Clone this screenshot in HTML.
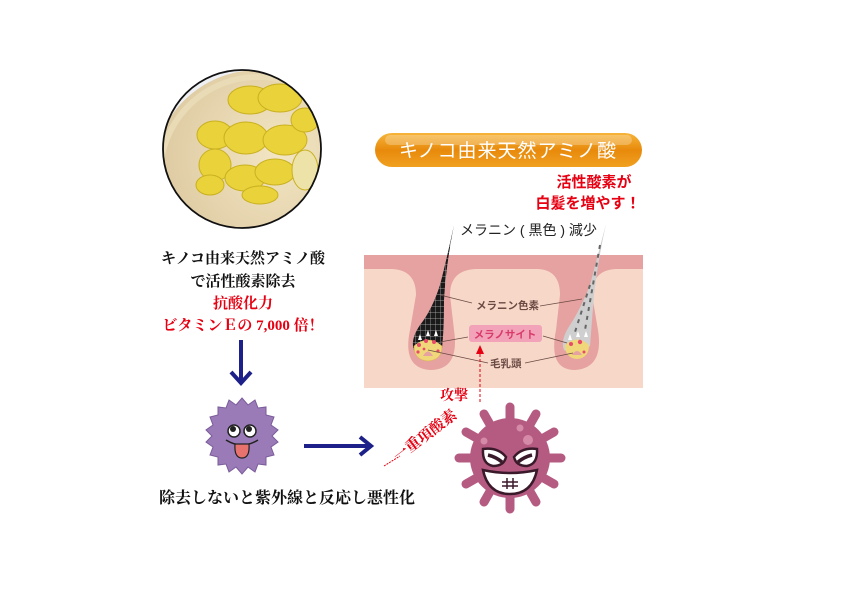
<!DOCTYPE html>
<html><head><meta charset="utf-8"><style>
html,body{margin:0;padding:0;background:#fff;width:842px;height:595px;overflow:hidden}
svg{display:block}
.s{font-family:"Liberation Serif","Noto Serif CJK SC",serif;font-weight:bold}
.g{font-family:"Liberation Sans","Noto Sans CJK JP",sans-serif}
</style></head><body>
<svg width="842" height="595" viewBox="0 0 842 595" xmlns="http://www.w3.org/2000/svg">
<defs>
<radialGradient id="bg" cx="0.6" cy="0.4" r="0.7"><stop offset="0" stop-color="#f3e6c4"/><stop offset="1" stop-color="#d9c49a"/></radialGradient>
<linearGradient id="pill" x1="0" y1="0" x2="0" y2="1"><stop offset="0" stop-color="#f6b53a"/><stop offset="0.5" stop-color="#e88a0c"/><stop offset="1" stop-color="#f0a020"/></linearGradient>
<clipPath id="cc"><circle cx="242" cy="149" r="79"/></clipPath>
<pattern id="mesh" width="5" height="6" patternUnits="userSpaceOnUse"><rect width="5" height="6" fill="#1a1a1a"/><path d="M0 0H5M0 0V6" stroke="#bbb" stroke-width="0.7"/></pattern>
</defs>

<!-- photo circle -->
<g clip-path="url(#cc)">
<rect x="160" y="65" width="170" height="170" fill="#eef0f4"/>
<circle cx="258" cy="175" r="105" fill="url(#bg)"/>
<circle cx="258" cy="175" r="98" fill="none" stroke="#e9dbb6" stroke-width="6"/>
<g fill="#e9d23a" stroke="#c9b020" stroke-width="1">
<ellipse cx="250" cy="100" rx="22" ry="14"/><ellipse cx="280" cy="98" rx="22" ry="14"/>
<ellipse cx="215" cy="135" rx="18" ry="14"/><ellipse cx="246" cy="138" rx="22" ry="16"/>
<ellipse cx="285" cy="140" rx="22" ry="15"/><ellipse cx="305" cy="120" rx="14" ry="12"/>
<ellipse cx="215" cy="165" rx="16" ry="16"/><ellipse cx="245" cy="178" rx="20" ry="13"/>
<ellipse cx="275" cy="172" rx="20" ry="13"/><ellipse cx="210" cy="185" rx="14" ry="10"/>
<ellipse cx="260" cy="195" rx="18" ry="9"/><ellipse cx="305" cy="170" rx="13" ry="20" fill="#ede3a8"/>
</g>
</g>
<circle cx="242" cy="149" r="79" fill="none" stroke="#111" stroke-width="1.8"/>

<!-- left texts -->
<g class="s" font-size="15" text-anchor="middle">
<text x="243" y="263" fill="#111">キノコ由来天然アミノ酸</text>
<text x="243" y="286" fill="#111">で活性酸素除去</text>
<text x="243" y="308" fill="#e60012">抗酸化力</text>
<text x="243" y="330" fill="#e60012">ビタミンＥの 7,000 倍！</text>
<text x="287" y="503" fill="#111" font-size="16">除去しないと紫外線と反応し悪性化</text>
</g>

<!-- arrows -->
<g stroke="#1d2088" stroke-width="4" fill="none">
<line x1="241" y1="340" x2="241" y2="382"/>
<polyline points="231,372 241,383 251,372"/>
<line x1="304" y1="446" x2="368" y2="446"/>
<polyline points="360,437 371,446 360,455"/>
</g>

<!-- purple germ -->
<g transform="translate(242,436)">
<polygon fill="#9a7bb7" stroke="#7a5b9a" stroke-width="1" points="0,-38 6,-31 13,-36 16,-28 24,-29 24,-21 32,-19 29,-11 36,-6 30,0 36,6 29,11 32,19 24,21 24,29 16,28 13,36 6,31 0,38 -6,31 -13,36 -16,28 -24,29 -24,21 -32,19 -29,11 -36,6 -30,0 -36,-6 -29,-11 -32,-19 -24,-21 -24,-29 -16,-28 -13,-36 -6,-31"/>
<circle cx="-8" cy="-5" r="6" fill="#fff" stroke="#222" stroke-width="1.5"/><circle cx="-9" cy="-7" r="3" fill="#222"/>
<circle cx="8" cy="-5" r="6" fill="#fff" stroke="#222" stroke-width="1.5"/><circle cx="7" cy="-7" r="3" fill="#222"/>
<path d="M-16 4 Q0 14 16 4" stroke="#222" stroke-width="1.5" fill="none"/>
<path d="M-7 8 Q-8 22 0 22 Q8 22 7 8Z" fill="#e8726e" stroke="#222" stroke-width="1.2"/>
</g>

<!-- orange pill -->
<rect x="375" y="133" width="267" height="34" rx="17" fill="url(#pill)"/>
<rect x="385" y="135" width="247" height="10" rx="5" fill="#fff" opacity="0.25"/>
<text x="508" y="157" class="g" font-size="19" fill="#fff" text-anchor="middle" letter-spacing="1">キノコ由来天然アミノ酸</text>

<g class="g" font-weight="bold" font-size="15" fill="#e60012" text-anchor="middle">
<text x="594" y="187">活性酸素が</text>
<text x="588" y="208">白髪を増やす！</text>
</g>
<text x="460" y="235" class="g" font-size="14" fill="#222">メラニン ( 黒色 ) 減少</text>

<!-- skin panel -->
<rect x="364" y="255" width="279" height="133" fill="#f7d8c8"/>
<path d="M364 255 H643 V269 H364Z" fill="#e6a2a0"/>
<!-- left follicle (pink sheath) -->
<path d="M392 269 Q416 270 416 295 L410 330 Q402 368 430 370 Q460 370 454 330 L450 295 Q450 270 476 269Z" fill="#e6a2a0"/>
<!-- right follicle -->
<path d="M538 269 Q560 270 560 295 L556 330 Q548 370 575 370 Q604 368 598 330 L592 295 Q592 270 616 269Z" fill="#e6a2a0"/>

<!-- left hair -->
<path d="M454 225 Q446 262 440 285 Q432 310 420 325 Q410 340 414 350 Q428 360 442 348 Q444 330 444 300 Q446 265 454 225Z" fill="url(#mesh)"/>
<g fill="#fff"><path d="M418 340 l2 -6 l2 6z"/><path d="M426 336 l2 -6 l2 6z"/><path d="M434 336 l2 -6 l2 6z"/></g>
<path d="M414 346 Q428 334 442 346 Q442 360 428 361 Q414 360 414 346Z" fill="#f0d77a" stroke="#d9b74e" stroke-width="0.5"/>
<path d="M423 356 Q428 347 433 356" fill="#e6a2a0"/>
<g fill="#e84a6a"><circle cx="419" cy="345" r="2"/><circle cx="426" cy="341" r="2"/><circle cx="434" cy="342" r="2"/><circle cx="418" cy="352" r="1.6"/><circle cx="438" cy="351" r="1.6"/><circle cx="424" cy="349" r="1.4"/></g>

<!-- right hair -->
<path d="M606 224 Q596 262 590 285 Q580 310 570 325 Q560 340 564 350 Q578 358 590 346 Q592 320 594 295 Q598 260 606 224Z" fill="#cfcfcf"/>
<g stroke="#666" stroke-width="2" stroke-dasharray="4 5"><line x1="600" y1="245" x2="585" y2="330"/><line x1="590" y1="285" x2="575" y2="332"/></g>
<g fill="#fff"><path d="M568 340 l2 -6 l2 6z"/><path d="M576 337 l2 -6 l2 6z"/><path d="M584 337 l2 -6 l2 6z"/></g>
<path d="M565 345 Q577 334 589 345 Q589 358 577 359 Q565 358 565 345Z" fill="#f0d77a"/>
<path d="M572 355 Q577 347 582 355" fill="#e6a2a0"/>
<g fill="#e84a6a"><circle cx="571" cy="344" r="2"/><circle cx="580" cy="342" r="2.2"/><circle cx="584" cy="352" r="1.5"/></g>

<!-- labels in panel -->
<g stroke="#6b4a43" stroke-width="0.8">
<line x1="440" y1="295" x2="472" y2="303"/><line x1="540" y1="306" x2="582" y2="299"/>
<line x1="440" y1="342" x2="468" y2="337"/><line x1="543" y1="336" x2="567" y2="343"/>
<line x1="428" y1="350" x2="488" y2="363"/><line x1="525" y1="363" x2="573" y2="353"/>
</g>
<g class="g" font-size="10.5" font-weight="bold" fill="#6b4a43">
<text x="476" y="309">メラニン色素</text>
<text x="490" y="367">毛乳頭</text>
</g>
<rect x="469" y="325" width="73" height="17" rx="3" fill="#f2a2b9"/>
<text x="505" y="338" class="g" font-size="10.5" font-weight="bold" fill="#d83a6a" text-anchor="middle">メラノサイト</text>

<!-- dashed arrow -->
<line x1="480" y1="402" x2="480" y2="352" stroke="#e60012" stroke-width="1" stroke-dasharray="3 2"/>
<polygon points="476,354 480,345 484,354" fill="#e60012"/>
<text x="440" y="400" class="s" font-size="14" fill="#e60012">攻撃</text>
<line x1="384" y1="466" x2="400" y2="456" stroke="#e60012" stroke-width="1" stroke-dasharray="2 1"/>
<text transform="translate(398,462) rotate(-37)" class="s" font-size="15" fill="#e60012">一重項酸素</text>

<!-- virus -->
<g transform="translate(510,458)" fill="#b55b82">
<g stroke="#b55b82" stroke-width="9" stroke-linecap="round">
<line x1="0" y1="-35" x2="0" y2="-51"/><line x1="0" y1="35" x2="0" y2="51"/>
<line x1="-35" y1="0" x2="-51" y2="0"/><line x1="35" y1="0" x2="51" y2="0"/>
<line x1="18" y1="-30" x2="26" y2="-44"/><line x1="-18" y1="-30" x2="-26" y2="-44"/>
<line x1="30" y1="-18" x2="44" y2="-26"/><line x1="-30" y1="-18" x2="-44" y2="-26"/>
<line x1="30" y1="18" x2="44" y2="26"/><line x1="-30" y1="18" x2="-44" y2="26"/>
<line x1="18" y1="30" x2="26" y2="44"/><line x1="-18" y1="30" x2="-26" y2="44"/>
</g>
<circle r="40"/>
<circle cx="-26" cy="-17" r="3.5" fill="#d58aa8"/><circle cx="10" cy="-30" r="3.5" fill="#d58aa8"/><circle cx="18" cy="-18" r="5" fill="#d58aa8"/>
<path d="M-27 -9 Q-12 -11 -4 -1 Q-6 8 -17 8 Q-28 6 -27 -9Z" fill="#fff" stroke="#3a1a2a" stroke-width="2.5"/>
<path d="M27 -9 Q12 -11 4 -1 Q6 8 17 8 Q28 6 27 -9Z" fill="#fff" stroke="#3a1a2a" stroke-width="2.5"/>
<path d="M-22 -3 Q-14 -1 -8 4" stroke="#3a1a2a" stroke-width="3.5" fill="none"/>
<path d="M22 -3 Q14 -1 8 4" stroke="#3a1a2a" stroke-width="3.5" fill="none"/>
<path d="M-27 12 Q0 18 27 12 Q22 36 0 36 Q-22 36 -27 12Z" fill="#fff" stroke="#3a1a2a" stroke-width="2.5"/>
<g stroke="#3a1a2a" stroke-width="1.5"><line x1="-8" y1="24" x2="8" y2="24"/><line x1="-8" y1="28" x2="8" y2="28"/><line x1="-3" y1="20" x2="-3" y2="31"/><line x1="3" y1="20" x2="3" y2="31"/></g>
</g>
</svg>
</body></html>
